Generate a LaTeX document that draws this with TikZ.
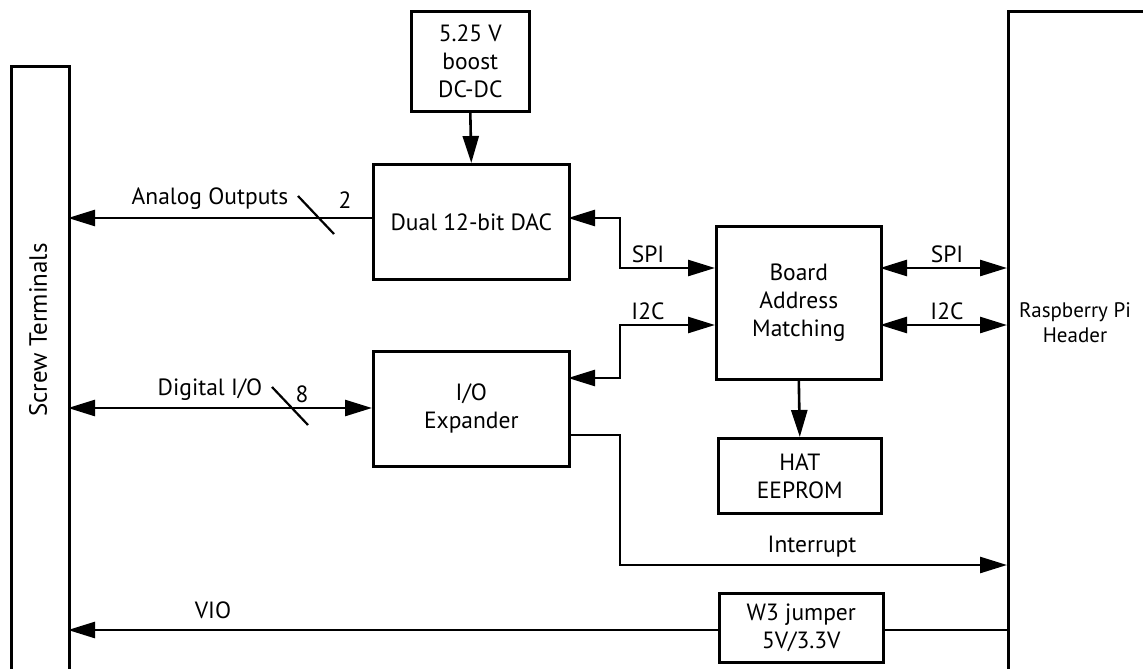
\documentclass[tikz,border=0pt]{standalone}
\usepackage{fontspec}
\setmainfont{PT Sans}
\usetikzlibrary{arrows.meta}
\begin{document}
\begin{tikzpicture}[x=1pt,y=-1pt,
  blk/.style={draw,line width=2.6pt,inner sep=0pt,align=center,font=\fontsize{23.5}{28}\selectfont},
  lbl/.style={font=\fontsize{23.5}{28}\selectfont,inner sep=0pt},
  wire/.style={line width=2.6pt},
  tip/.style={-{Triangle[length=27pt,width=16pt]}},
  tips/.style={{Triangle[length=27pt,width=16pt]}-{Triangle[length=27pt,width=16pt]}},
  slash/.style={line width=2.2pt}]
\useasboundingbox (0,0) rectangle (1143,669);
% boxes
\node[blk,minimum width=58pt,minimum height=604pt,anchor=north west] (scr) at (10,65) {};
\node[rotate=90,font=\fontsize{25}{28}\selectfont] (scrt) at (38,330) {Screw Terminals};
\node[blk,minimum width=118pt,minimum height=100pt,anchor=north west] (dcdc) at (410,10) {5.25 V\\boost\\DC-DC};
\node[blk,minimum width=196pt,minimum height=115pt,anchor=north west] (dac) at (372,163) {Dual 12-bit DAC};
\node[blk,minimum width=196pt,minimum height=115pt,anchor=north west] (ioe) at (372,350) {I/O\\Expander};
\node[blk,minimum width=165pt,minimum height=153pt,anchor=north west] (bam) at (715,225) {Board\\Address\\Matching};
\node[blk,minimum width=163pt,minimum height=75pt,anchor=north west] (hat) at (717,437) {HAT\\EEPROM};
\node[blk,minimum width=164pt,minimum height=69pt,anchor=north west] (w3) at (718,592) {W3 jumper\\5V/3.3V};
\node[blk,minimum width=140pt,minimum height=662pt,anchor=north west] (rpi) at (1007,10) {};
\node[align=center,font=\fontsize{21}{25}\selectfont,inner sep=0pt] (rpit) at (1075,323) {Raspberry Pi\\Header};
% coordinates
\coordinate (spiB) at (715,268);
\coordinate (i2cB) at (715,325);
\coordinate (spiR) at (1007,268);
\coordinate (i2cR) at (1007,325);
\coordinate (spiBR) at (880,268);
\coordinate (i2cBR) at (880,325);
\coordinate (ioeI) at (568,378);
\coordinate (ioeO) at (568,435);
\coordinate (intR) at (1007,565);
\coordinate (vioR) at (1007,630);
\coordinate (vioS) at (68,630);
\coordinate (aoS) at (68,218);
\coordinate (dioS) at (68,408);
\coordinate (dacE) at (568,218);
\coordinate (dacW) at (372,218);
\coordinate (ioeW) at (372,408);
% connectors
\draw[wire,tip] (dcdc.south) -- (dac.north);
\draw[wire,tip] (bam.south) -- (hat.north);
\draw[wire,tip] (dacW) -- (aoS);
\draw[wire,tips] (dioS) -- (ioeW);
\draw[wire,tips] (dacE) -- (620,218) |- (spiB);
\draw[wire,tips] (ioeI) -- (620,378) |- (i2cB);
\draw[wire,tips] (spiBR) -- (spiR);
\draw[wire,tips] (i2cBR) -- (i2cR);
\draw[wire,tip] (ioeO) -- (620,435) |- (intR);
\draw[wire] (vioR) -- (w3.east |- vioR);
\draw[wire,tip] (w3.west |- vioS) -- (vioS);
% slashes
\draw[slash] (298,196) -- (334,234);
\draw[slash] (272,387) -- (308,425);
% labels
\node[lbl] (l1) at (210,199) {Analog Outputs};
\node[lbl] (l2) at (345,200) {2};
\node[lbl] (l3) at (210,390) {Digital I/O};
\node[lbl] (l4) at (302,394) {8};
\node[lbl] (l5) at (648,254) {SPI};
\node[lbl] (l6) at (648,311) {I2C};
\node[lbl] (l7) at (947,254) {SPI};
\node[lbl] (l8) at (947,311) {I2C};
\node[lbl] (l9) at (812,547) {Interrupt};
\node[lbl] (l10) at (213,610) {VIO};
\end{tikzpicture}
\end{document}
